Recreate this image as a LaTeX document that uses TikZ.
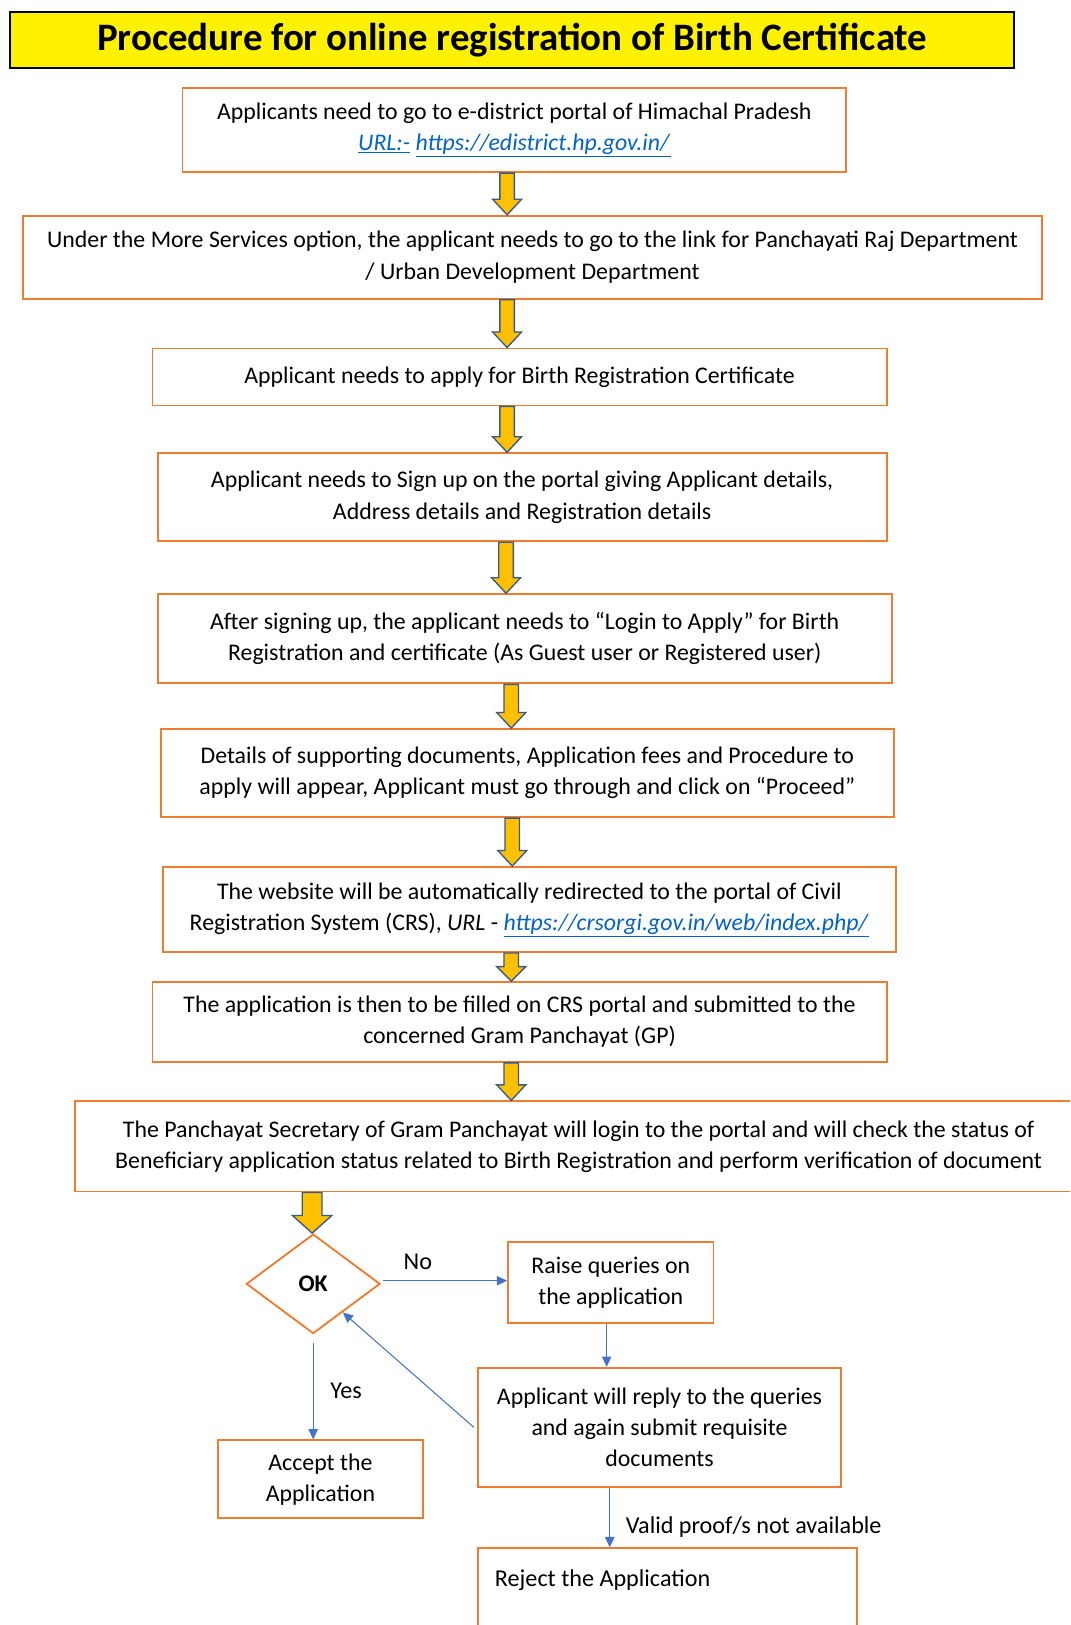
\documentclass[tikz,border=0pt]{standalone}
\usepackage{fontspec}
\setmainfont{Carlito}
\usetikzlibrary{shapes.geometric,calc,arrows.meta}
\definecolor{boxorange}{HTML}{ED7D31}
\definecolor{arrowfill}{HTML}{FFC000}
\definecolor{arrowline}{HTML}{3A5A8C}
\definecolor{linkblue}{HTML}{0563C1}
\definecolor{flowblue}{HTML}{4472C4}
\newcommand\flowarrow[6]{%
  \draw[yarr] let \p1=([xshift=#2pt]#1.south), \p2=(#3.north) in
    (\x1-#4pt,\y1) -- (\x1-#4pt,\y2+#6pt) -- (\x1-#5pt,\y2+#6pt) -- (\x1,\y2)
    -- (\x1+#5pt,\y2+#6pt) -- (\x1+#4pt,\y2+#6pt) -- (\x1+#4pt,\y1) -- cycle;}
\newcommand\lnk[1]{\textcolor{linkblue}{\underline{\textit{#1}}}}
\begin{document}
\begin{tikzpicture}[x=1pt,y=-1pt,
  stepbox/.style={draw=boxorange, line width=1.8pt, fill=white, align=center,
    inner sep=0pt, font=\fontsize{23}{30}\selectfont},
  titlebox/.style={draw=black, line width=2pt, fill=yellow, align=center,
    inner sep=0pt, font=\fontsize{37.5}{40}\selectfont\bfseries},
  yarr/.style={draw=arrowline, line width=1.3pt, fill=arrowfill, line join=miter},
  barr/.style={draw=flowblue, line width=1pt, -{Triangle[length=10pt,width=9pt]}},
  lbl/.style={font=\fontsize{23.3}{26}\selectfont, inner sep=0pt},
  decision/.style={diamond, draw=boxorange, line width=1.8pt, fill=white, aspect=1.34,
    minimum width=129pt, minimum height=96pt, inner sep=0pt,
    font=\fontsize{23}{26}\selectfont\bfseries}]
\useasboundingbox (0,0) rectangle (1032,1567);
\clip (0,0) rectangle (1032,1567);
\fill[white] (0,0) rectangle (1032,1567);

\node[titlebox, minimum width=968pt, minimum height=54pt] (title) at (494,39)
  {Procedure for online registration of Birth Certificate};

\node[stepbox, minimum width=640pt, minimum height=81pt] (b1) at (496,125.5)
  {Applicants need to go to e-district portal of Himachal Pradesh\\
   \lnk{URL:-} \lnk{https://edistrict.hp.gov.in/}};
\node[stepbox, minimum width=983pt, minimum height=80pt] (b2) at (513.5,248)
  {Under the More Services option, the applicant needs to go to the link for Panchayati Raj Department\\
   / Urban Development Department};
\node[stepbox, minimum width=708pt, minimum height=55pt] (b3) at (501,363.5)
  {Applicant needs to apply for Birth Registration Certificate};
\node[stepbox, minimum width=703pt, minimum height=85pt] (b4) at (503.5,479.5)
  {Applicant needs to Sign up on the portal giving Applicant details,\\
   Address details and Registration details};
\node[stepbox, minimum width=708pt, minimum height=86pt] (b5) at (506,616)
  {After signing up, the applicant needs to “Login to Apply” for Birth\\
   Registration and certificate (As Guest user or Registered user)};
\node[stepbox, minimum width=707pt, minimum height=85pt] (b6) at (508.5,745.5)
  {Details of supporting documents, Application fees and Procedure to\\
   apply will appear, Applicant must go through and click on “Proceed”};
\node[stepbox, minimum width=707pt, minimum height=82pt] (b7) at (510.5,877)
  {The website will be automatically redirected to the portal of Civil\\
   Registration System (CRS), \textit{URL} - \lnk{https://crsorgi.gov.in/web/index.php/}};
\node[stepbox, minimum width=708pt, minimum height=77pt] (b8) at (501,985.5)
  {The application is then to be filled on CRS portal and submitted to the\\
   concerned Gram Panchayat (GP)};
\node[stepbox, minimum width=972pt, minimum height=87pt] (b9) at (558,1105.5)
  {The Panchayat Secretary of Gram Panchayat will login to the portal and will check the status of\\
   Beneficiary application status related to Birth Registration and perform verification of document};

\node[decision] (ok) at (302,1238) {OK};
\node[stepbox, minimum width=198pt, minimum height=78pt] (raise) at (589,1237)
  {Raise queries on\\the application};
\node[stepbox, minimum width=350pt, minimum height=115pt] (reply) at (636,1376.5)
  {Applicant will reply to the queries\\and again submit requisite\\documents};
\node[stepbox, minimum width=198pt, minimum height=75pt] (accept) at (309,1426.5)
  {Accept the\\Application};
\node[stepbox, minimum width=365pt, minimum height=90pt] (reject) at (643.5,1538)
  {};
\node[lbl, anchor=west] (rejtxt) at ([xshift=17pt,yshift=-32pt]reject.north west)
  {Reject the Application};

\flowarrow{b1}{-7}{b2}{7}{14}{15}
\flowarrow{b2}{-24.5}{b3}{7}{14}{15}
\flowarrow{b3}{-12}{b4}{7}{14}{15}
\flowarrow{b4}{-15.5}{b5}{7}{14}{15}
\flowarrow{b5}{-13}{b6}{7}{14}{15}
\flowarrow{b6}{-14.5}{b7}{7}{14}{15}
\flowarrow{b7}{-17.5}{b8}{7}{14}{14}
\flowarrow{b8}{-8}{b9}{7}{14}{15}
\flowarrow{b9}{-257}{ok}{9.5}{19}{17}

\draw[barr] ([xshift=2pt,yshift=3pt]ok.east) -- ([yshift=3pt]ok.east -| raise.west)
  node[lbl, pos=0.28, above=10pt] (nolbl) {No};
\draw[barr] ([xshift=-4pt]raise.south) -- ([xshift=-4pt]raise.south |- reply.north);
\draw[barr] ([xshift=-3pt]reply.west) -- (ok.-44);
\draw[barr] ([yshift=-8pt]ok.south) -- (ok.south |- accept.north)
  node[lbl, midway, right=16pt] (yeslbl) {Yes};
\draw[barr] ([xshift=-48pt]reply.south) -- ([xshift=-48pt]reply.south |- reject.north)
  node[lbl, pos=0.65, anchor=west, xshift=15pt] (vlbl) {Valid proof/s not available};
\end{tikzpicture}
\end{document}
